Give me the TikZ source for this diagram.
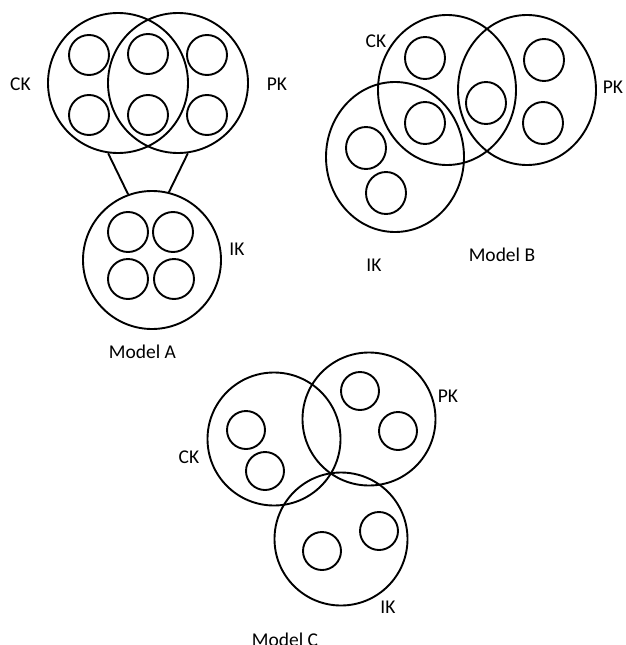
\documentclass[tikz,border=0pt]{standalone}
\usepackage{fontspec}
\setmainfont{Carlito}
\usetikzlibrary{shapes.geometric}
\begin{document}
\begin{tikzpicture}[x=1pt,y=-1pt,
  big/.style={draw,line width=1.9pt,circle,inner sep=0pt,minimum size=#1},
  sml/.style={draw,line width=1.9pt,circle,inner sep=0pt,minimum size=#1},
  bigE/.style={draw,line width=1.9pt,ellipse,inner sep=0pt,minimum width=138pt,minimum height=150pt},
  smlE/.style={draw,line width=1.9pt,ellipse,inner sep=0pt,minimum width=40pt,minimum height=42pt},
  lbl/.style={anchor=base,inner sep=0pt,font=\fontsize{19.5}{22}\selectfont},
  link/.style={line width=1.9pt}]
\useasboundingbox (0,0) rectangle (625,645);
% ---------- Model A ----------
\node[big=140pt] (ckA) at (118,83) {};
\node[big=140pt] (pkA) at (178,83) {};
\node[big=138pt] (ikA) at (152,260) {};
\node[sml=40pt] (a1) at (89,55) {};
\node[sml=40pt] (a2) at (89,115) {};
\node[sml=40pt] (a3) at (148,54) {};
\node[sml=40pt] (a4) at (148,115) {};
\node[sml=40pt] (a5) at (207,55) {};
\node[sml=40pt] (a6) at (207,115) {};
\node[sml=40pt] (a7) at (128,232) {};
\node[sml=40pt] (a8) at (173,232) {};
\node[sml=40pt] (a9) at (128,279) {};
\node[sml=40pt] (a10) at (174,279) {};
\draw[link] (ckA.-98) -- (ikA.110);
\draw[link] (pkA.-82) -- (ikA.76);
\node[lbl] (tckA) at (20.5,90) {CK};
\node[lbl] (tpkA) at (277,90) {PK};
\node[lbl] (tikA) at (237,255) {IK};
\node[lbl] (tmA) at (142.5,358) {Model A};
% ---------- Model B ----------
\node[bigE] (ckB) at (447,90) {};
\node[bigE] (pkB) at (527,90) {};
\node[bigE] (ikB) at (395,157) {};
\node[smlE] (b1) at (425,58) {};
\node[smlE] (b2) at (425,123) {};
\node[smlE] (b3) at (486,103) {};
\node[smlE] (b4) at (544,60) {};
\node[smlE] (b5) at (543,123) {};
\node[smlE] (b6) at (366,148) {};
\node[smlE] (b7) at (386,193) {};
\node[lbl] (tckB) at (376,47) {CK};
\node[lbl] (tpkB) at (613,93) {PK};
\node[lbl] (tikB) at (374,271) {IK};
\node[lbl] (tmB) at (502,261) {Model B};
% ---------- Model C ----------
\node[big=133pt] (ckC) at (274,439) {};
\node[big=133pt] (pkC) at (369,419) {};
\node[big=133pt] (ikC) at (341,539) {};
\node[sml=38pt] (c1) at (246,430) {};
\node[sml=38pt] (c2) at (265,471) {};
\node[sml=38pt] (c3) at (360,391) {};
\node[sml=38pt] (c4) at (398,431) {};
\node[sml=38pt] (c5) at (322,551) {};
\node[sml=38pt] (c6) at (379,531) {};
\node[lbl] (tckC) at (189,463) {CK};
\node[lbl] (tpkC) at (448,402) {PK};
\node[lbl] (tikC) at (388,613) {IK};
\node[lbl] (tmC) at (285,646) {Model C};
\end{tikzpicture}
\end{document}
